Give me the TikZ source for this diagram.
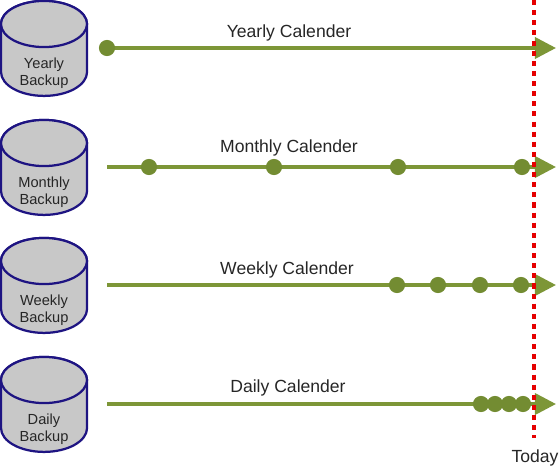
\documentclass[tikz,border=0pt]{standalone}
\usepackage{xcolor}
\usepackage{fontspec}
\setmainfont{Liberation Sans}
\usepackage{tikz}
\usetikzlibrary{arrows.meta, positioning}

\begin{document}
\begin{tikzpicture}[x=0.025cm, y=-0.025cm, every node/.style={align=center}]
      \definecolor{linegreen}{RGB}{125,150,55} \definecolor{dotgreen}{RGB}{115,140,50}
      \definecolor{dbborder}{RGB}{30,20,130} \definecolor{dbbg}{RGB}{200,200,200}
      \tikzset{
        backup/.style={draw=dbborder, fill=dbbg, line width=1.6pt},
        backuplabel/.style={font=\fontsize{10.4}{12}\selectfont, text=black!85},
        timeline/.style={draw=linegreen, line width=2.6pt, -{Triangle[length=15pt, width=15pt]}},
        tick/.style={circle, fill=dotgreen, minimum size=11.5pt, inner sep=0pt},
        callabel/.style={font=\fontsize{12.5}{14}\selectfont, text=black!85}
      }
      \useasboundingbox (0, 0) rectangle (559, 468);

      % one row per backup
      \foreach \name/\dy/\lx/\ly/\txt in {yearly/0/289/32.5/Yearly, monthly/119/289/147.5/Monthly, weekly/237/287/269.5/Weekly, daily/356/288/387.5/Daily} {
        \draw[backup] (1, 24+\dy) -- (1, 72+\dy) arc (180:360:30.6pt and 17pt) -- (87, 24+\dy) arc (0:180:30.6pt and 16.4pt) -- cycle;
        \draw[backup] (44, 24+\dy) ellipse [x radius=30.6pt, y radius=16.4pt];
        \node[backuplabel] (\name db) at (44, 73+\dy) {\txt\\Backup};
        \coordinate (\name start) at (107, 48+\dy);
        \coordinate (\name end) at (556, 48+\dy);
        \draw[timeline] (\name start) -- (\name end);
        \node[callabel] (\name cal) at (\lx, \ly) {\txt{} Calender};
      }

      \node[tick] (y1) at (107, 48) {};
      \foreach \i/\x in {1/149, 2/274, 3/398, 4/522} \node[tick] (m\i) at (\x, 167) {};
      \foreach \i/\x in {1/397, 2/438, 3/480, 4/521} \node[tick] (w\i) at (\x, 285) {};
      \foreach \i/\x in {1/481, 2/495, 3/509, 4/523} \node[tick] (d\i) at (\x, 404) {};

      \coordinate (todaytop) at (534, 0);
      \coordinate (todaybottom) at (534, 438);
      \node[font=\fontsize{12.5}{14}\selectfont, text=black!85] (today) at (535, 458) {Today};
      \draw[red!90!black, line width=3pt, dash pattern=on 3.6pt off 3.6pt] (todaytop) -- (todaybottom);
    \end{tikzpicture}
\end{document}
